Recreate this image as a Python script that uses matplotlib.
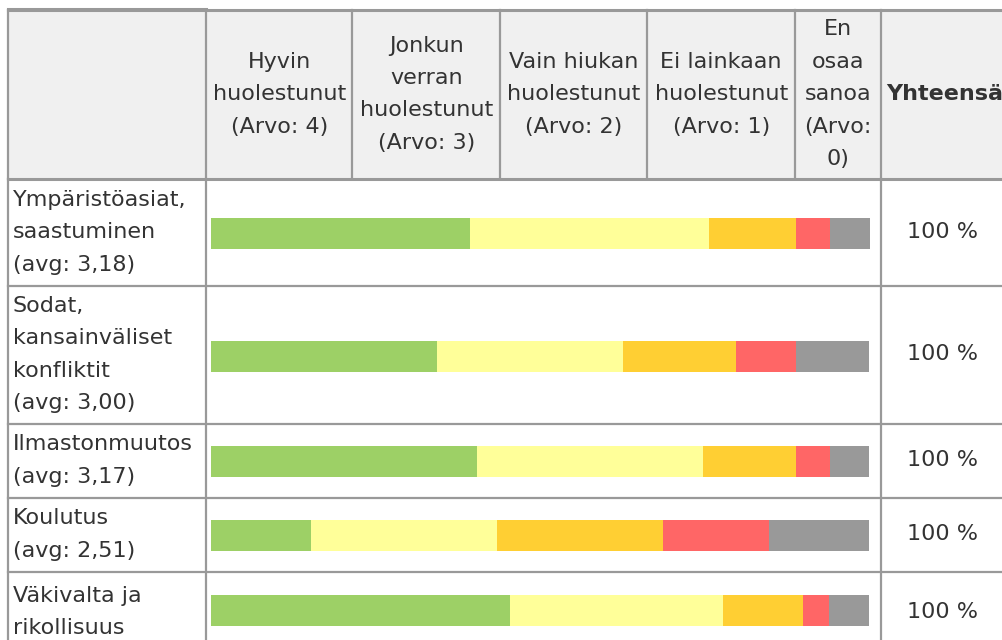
import numpy as np
import matplotlib
matplotlib.use("Agg")
from matplotlib import pyplot as plt

# answer categories (header) and row questions
columns = ["Hyvin\nhuolestunut\n(Arvo: 4)", "Jonkun\nverran\nhuolestunut\n(Arvo: 3)",
           "Vain hiukan\nhuolestunut\n(Arvo: 2)", "Ei lainkaan\nhuolestunut\n(Arvo: 1)",
           "En\nosaa\nsanoa\n(Arvo:\n0)"]
rows = ["Ympäristöasiat,\nsaastuminen\n(avg: 3,18)",
        "Sodat,\nkansainväliset\nkonfliktit\n(avg: 3,00)",
        "Ilmastonmuutos\n(avg: 3,17)",
        "Koulutus\n(avg: 2,51)",
        "Väkivalta ja\nrikollisuus"]
totals = ["100 %", "100 %", "100 %", "100 %", "100 %"]

# shares (%)
hyvin = [39.3, 34.3, 40.4, 15.2, 45.4]
jonkun = [36.3, 28.2, 34.3, 28.2, 32.3]
vain = [13.2, 17.1, 14.1, 25.2, 12.1]
ei = [5.1, 9.1, 5.1, 16.1, 4.0]
eos = [6.1, 11.2, 6.0, 15.2, 6.1]
colors = ["#9dd066", "#ffff99", "#ffcf33", "#ff6666", "#999999"]

W, H = 1003, 640
fig = plt.figure(figsize=(W / 100, H / 100), dpi=100)
ax = fig.add_axes([0, 0, 1, 1])
ax.set_xlim(0, W)
ax.set_ylim(H, 0)
ax.axis("off")

line_c = "#999999"
txt_c = "#333333"
fs = 16
ls = 1.78

col_x = [8, 206, 352.5, 500, 647.5, 795, 881, 1010]
row_y = [9.5, 179, 285.5, 423.5, 497.5, 571.5, 650]

# header background
ax.add_patch(plt.Rectangle((col_x[0], row_y[0]), col_x[-1] - col_x[0], row_y[1] - row_y[0],
                           facecolor="#f0f0f0", edgecolor="none"))
# grid lines: all columns in the header, only outer ones in the body
for x in col_x[:-1]:
    ax.plot([x, x], [row_y[0], row_y[1]], color=line_c, lw=1.6)
for x in [col_x[0], col_x[1], col_x[6]]:
    ax.plot([x, x], [row_y[1], row_y[-1]], color=line_c, lw=1.6)
ax.plot([col_x[0], col_x[1]], [8.5, 8.5], color=line_c, lw=2.2)
for i, y in enumerate(row_y[:-1]):
    ax.plot([col_x[0], col_x[-1]], [y, y], color=line_c, lw=2.2 if i < 2 else 1.6)

# header texts
for i, c in enumerate(columns):
    cx = (col_x[i + 1] + col_x[i + 2]) / 2
    ax.text(cx, (row_y[0] + row_y[1]) / 2, c, ha="center", va="center",
            fontsize=fs, color=txt_c, linespacing=ls)
ax.text(886, (row_y[0] + row_y[1]) / 2, "Yhteensä", ha="left", va="center",
        fontsize=fs, color=txt_c, fontweight="bold")

# row labels and totals
for i, r in enumerate(rows):
    cy = (row_y[i + 1] + row_y[i + 2]) / 2
    if i == 4:
        cy = 612
    ax.text(13, cy, r, ha="left", va="center", fontsize=fs, color=txt_c, linespacing=ls)
    ax.text(943, cy, totals[i], ha="center", va="center", fontsize=fs, color=txt_c)

# stacked bars in their own axes (x in percent, y in pixels)
bx = fig.add_axes([211 / W, 0, 659 / W, 1])
bx.set_xlim(0, 100)
bx.set_ylim(H, 0)
bx.axis("off")
centers = [233.5, 356, 461.5, 535.5, 610.5]
left = np.zeros(len(rows))
for vals, col in zip([hyvin, jonkun, vain, ei, eos], colors):
    vals = np.array(vals)
    bx.barh(centers, vals, left=left, height=31, color=col, edgecolor="none")
    left += vals

fig.savefig("out.png", dpi=100)
